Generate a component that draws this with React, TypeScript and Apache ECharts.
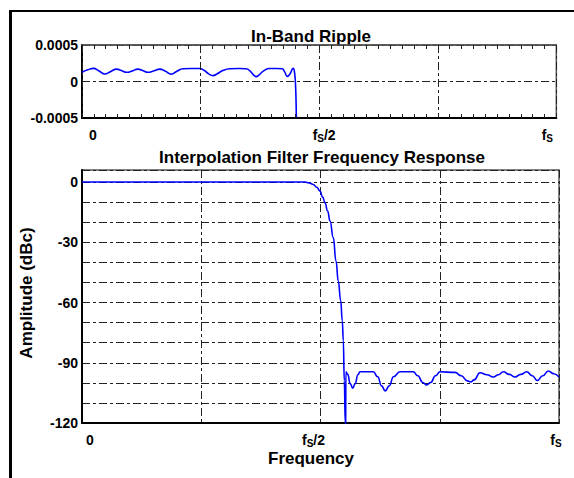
import React, { useEffect, useRef } from "react";
import * as echarts from "echarts";

// ---------- data ----------
// In-band ripple (top plot), frequency as fraction of fs, amplitude in dB
const rippleFreq = [
  0, 0.012, 0.024, 0.036, 0.048, 0.06, 0.073, 0.083, 0.094, 0.106, 0.118, 0.128,
  0.139, 0.151, 0.164, 0.176, 0.188, 0.2, 0.213, 0.23, 0.248, 0.258, 0.267, 0.276,
  0.285, 0.297, 0.311, 0.33, 0.346, 0.354, 0.361, 0.367, 0.374, 0.383, 0.395, 0.41,
  0.422, 0.427, 0.433, 0.439, 0.445, 0.448, 0.4505, 0.452, 0.454,
];
const rippleValue = [
  0.000126, 0.00016, 0.00018, 0.000145, 0.000103, 0.000135, 0.00017, 0.00015,
  0.000126, 0.000145, 0.00017, 0.00015, 0.000126, 0.000145, 0.00017, 0.00014,
  0.0001, 0.00014, 0.000175, 0.000178, 0.000178, 0.00015, 0.000105, 0.00008,
  0.000105, 0.00015, 0.000175, 0.000178, 0.000175, 0.000145, 0.000095, 0.000066,
  0.000095, 0.000145, 0.000178, 0.000178, 0.000175, 0.000135, 0.00007, 0.00011,
  0.00018, 0.00013, -0.0001, -0.0005, -0.0009,
];

// Full frequency response (bottom plot), dBc
const responseFreq = [
  0, 0.4675, 0.476, 0.485, 0.492, 0.499, 0.5045, 0.5094, 0.515, 0.52, 0.5268,
  0.5325, 0.5373, 0.5423, 0.5457, 0.5478, 0.5499, 0.552, 0.5526, 0.5532, 0.557,
  0.5625, 0.5675, 0.5725, 0.5785, 0.5828, 0.5965, 0.6107, 0.62, 0.628, 0.6358,
  0.644, 0.653, 0.6667, 0.6946, 0.704, 0.7145, 0.7226, 0.731, 0.741, 0.7505, 0.782,
  0.795, 0.808, 0.8149, 0.822, 0.8344, 0.849, 0.8623, 0.873, 0.8832, 0.896, 0.9078,
  0.92, 0.9323, 0.944, 0.9545, 0.966, 0.9776, 0.989, 1.0,
];
const responseDb = [
  0, 0, -0.4, -1.2, -2.6, -4.5, -7.5, -10.3, -14.5, -19.4, -27.7, -39.3, -49.3, -59,
  -69.2, -79, -99, -120, -130, -94.5, -95.8, -100.5, -102.7, -100.5, -96, -94.5,
  -94.5, -94.5, -97, -101.5, -104, -101.5, -97, -94.5, -94.5, -96.5, -99.8, -101,
  -99.8, -96.5, -94.5, -94.8, -96.5, -99, -99.6, -98.5, -95, -96, -97.1, -96, -94.5,
  -95.8, -97.1, -95.8, -94.5, -96.5, -98.8, -96.5, -94.1, -95.5, -97.1,
];

// tick labels
const xTickValues = [0, 0.5, 1];
const xTickTexts = ["0", "fS/2", "fS"];
const dbLabelValues = [0, -30, -60, -90, -120];

// ---------- styles ----------
const FONT = "'Liberation Sans', Arial, Helvetica, sans-serif";
const TOP_SHIFTS = [11, 5, -9];
const BOTTOM_SHIFTS = [8, -7, -3];
const gridLine = () => ({ color: "#222", width: 1, type: [8, 3, 3, 3] as any });

function tokensOf(txt: string): [string, string][] {
  if (txt.startsWith("fS")) {
    const t: [string, string][] = [["m", "f"], ["s", "S"]];
    if (txt.length > 2) t.push(["m", txt.slice(2)]);
    return t;
  }
  return [["m", txt]];
}

function xLabel(shifts: number[], show = true) {
  const base: any = {
    m: { fontSize: 14, fontWeight: "bold", fontFamily: FONT, color: "#000", lineHeight: 16 },
    s: { fontSize: 10, fontWeight: "bold", fontFamily: FONT, color: "#000", verticalAlign: "bottom", lineHeight: 16 },
  };
  const rich: any = {};
  xTickTexts.forEach((txt, i) => {
    const toks = tokensOf(txt);
    const s = shifts[i];
    const lp = Math.max(0, 2 * s);
    const rp = Math.max(0, -2 * s);
    toks.forEach(([st], k) => {
      rich[`${st}${i}_${k}`] = {
        ...base[st],
        padding: [0, k === toks.length - 1 ? rp : 0, 0, k === 0 ? lp : 0],
      };
    });
  });
  return {
    show,
    margin: 9,
    rich,
    formatter: (v: number) => {
      const i = xTickValues.findIndex((t) => Math.abs(t - v) < 1e-9);
      if (i < 0) return "";
      return tokensOf(xTickTexts[i])
        .map(([st, t], k) => `{${st}${i}_${k}|${t}}`)
        .join("");
    },
  };
}

const yLabelBase = () => ({
  fontSize: 14,
  fontWeight: "bold" as const,
  fontFamily: FONT,
  color: "#000",
  margin: 4,
  padding: [5, 0, 0, 0],
});

const majorTick = () => ({ show: true, inside: true, length: 4, lineStyle: { color: "#222", width: 1 } });
const minorTick = () => ({ show: true, splitNumber: 10, length: 4, lineStyle: { color: "#222", width: 1 } });

export default function App() {
  const ref = useRef<HTMLDivElement>(null);
  useEffect(() => {
    if (!ref.current) return;
    const chart = echarts.init(ref.current, null, { renderer: "svg" });
    chart.setOption({
      animation: false,
      backgroundColor: "#fff",
      grid: [
        { left: 82, top: 45, width: 476, height: 73, show: true, borderColor: "#555", borderWidth: 1.5 },
        { left: 82, top: 170, width: 477, height: 253, show: true, borderColor: "#555", borderWidth: 1.5 },
      ],
      xAxis: [
        {
          gridIndex: 0, type: "value", min: 0, max: 1, interval: 0.25, z: 10,
          axisLine: { show: true, onZero: false, lineStyle: { color: "#000", width: 2 } },
          axisTick: majorTick(),
          minorTick: minorTick(),
          splitLine: { show: true, lineStyle: gridLine() },
          axisLabel: xLabel(TOP_SHIFTS),
        },
        {
          gridIndex: 0, type: "value", position: "top", min: 0, max: 1, interval: 0.25, z: 10,
          axisLine: { show: true, onZero: false, lineStyle: { color: "#555", width: 1.5 } },
          axisTick: majorTick(),
          minorTick: minorTick(),
          splitLine: { show: false },
          axisLabel: { show: false },
        },
        {
          gridIndex: 1, type: "value", min: 0, max: 1, interval: 0.25,
          axisLine: { show: true, onZero: false, lineStyle: { color: "#000", width: 2 } },
          axisTick: { show: false },
          splitLine: { show: true, lineStyle: gridLine() },
          axisLabel: xLabel(BOTTOM_SHIFTS),
        },
      ],
      yAxis: [
        {
          gridIndex: 0, type: "value", min: -0.0005, max: 0.0005, interval: 0.0005,
          axisLine: { show: true, lineStyle: { color: "#000", width: 2 } },
          axisTick: { show: false },
          splitLine: { show: true, lineStyle: gridLine() },
          axisLabel: {
            ...yLabelBase(),
            formatter: (v: number) => (Math.abs(v) < 1e-12 ? "0" : v > 0 ? "0.0005" : "-0.0005"),
          },
        },
        {
          gridIndex: 1, type: "value", min: -120, max: 6, interval: 10,
          axisLine: { show: true, lineStyle: { color: "#000", width: 2 } },
          axisTick: { show: false },
          splitLine: { show: true, lineStyle: gridLine() },
          axisLabel: {
            ...yLabelBase(),
            formatter: (v: number) => (dbLabelValues.indexOf(v) >= 0 ? String(v) : ""),
          },
        },
      ],
      series: [
        {
          type: "line", xAxisIndex: 0, yAxisIndex: 0,
          data: rippleFreq.map((f, i) => [f, rippleValue[i]]),
          showSymbol: false, smooth: 0.5, clip: true,
          lineStyle: { color: "#0000ff", width: 1.6 },
        },
        {
          type: "line", xAxisIndex: 2, yAxisIndex: 1,
          data: responseFreq.map((f, i) => [f, responseDb[i]]),
          showSymbol: false, smooth: 0.5, smoothMonotone: "x", clip: true,
          lineStyle: { color: "#0000ff", width: 1.6 },
        },
      ],
      graphic: [
        { type: "rect", shape: { x: 9, y: 10, width: 3, height: 470 }, style: { fill: "#000" } },
        { type: "rect", shape: { x: 9, y: 10, width: 570, height: 2 }, style: { fill: "#000" } },
        {
          type: "text", x: 311, y: 36,
          style: { text: "In-Band Ripple", font: `bold 17px ${FONT}`, fill: "#000", textAlign: "center", textVerticalAlign: "middle" },
        },
        {
          type: "text", x: 322, y: 157,
          style: { text: "Interpolation Filter Frequency Response", font: `bold 17px ${FONT}`, fill: "#000", textAlign: "center", textVerticalAlign: "middle" },
        },
        {
          type: "text", x: 311, y: 458,
          style: { text: "Frequency", font: `bold 17px ${FONT}`, fill: "#000", textAlign: "center", textVerticalAlign: "middle" },
        },
        {
          type: "text", x: 26, y: 293, rotation: Math.PI / 2,
          style: { text: "Amplitude (dBc)", font: `bold 17px ${FONT}`, fill: "#000", textAlign: "center", textVerticalAlign: "middle" },
        },
      ],
    });
    return () => chart.dispose();
  }, []);
  return (
    <div
      ref={ref}
      style={{ position: "absolute", left: 0, top: 0, width: 574, height: 478, background: "#fff" }}
    />
  );
}
